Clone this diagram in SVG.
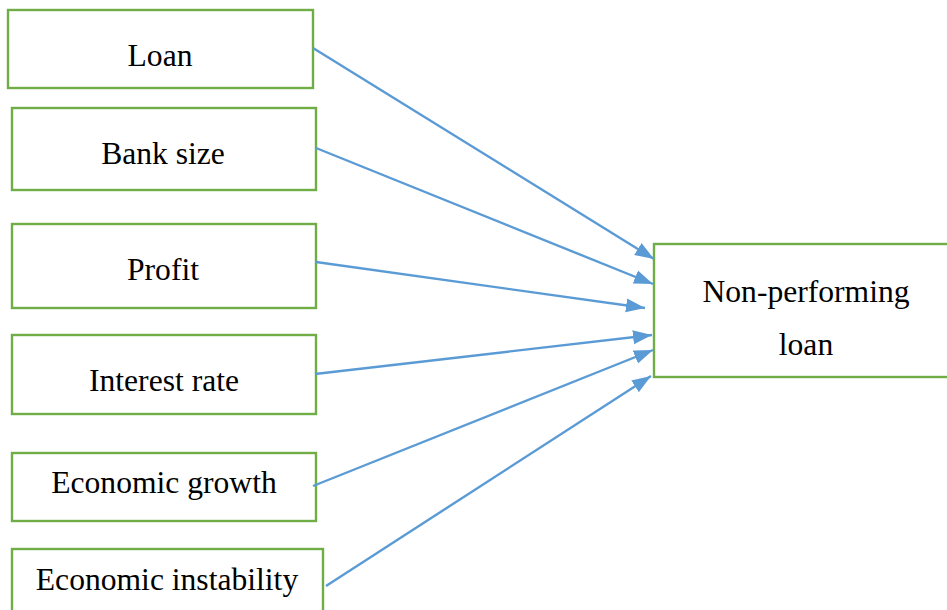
<svg xmlns="http://www.w3.org/2000/svg" width="947" height="610" viewBox="0 0 947 610">
<style>
.box{fill:#fff;stroke:#70AD47;stroke-width:2.4}
.lbl{font-family:'Liberation Serif',serif;font-size:31.6px;fill:#000;text-anchor:middle}
.arr{stroke:#5B9BD5;stroke-width:2.4;fill:none;marker-end:url(#ah)}
</style>
<defs>
<marker id="ah" markerUnits="userSpaceOnUse" markerWidth="20" markerHeight="16" viewBox="0 0 20 16" refX="19" refY="8" orient="auto">
<path d="M0,1 L19,8 L0,15 Z" fill="#5B9BD5"/>
</marker>
</defs>
<rect width="947" height="610" fill="#fff"/>
<g id="loan"><rect class="box" x="8" y="10" width="305" height="78"/><text class="lbl" x="160" y="66">Loan</text></g>
<g id="banksize"><rect class="box" x="12" y="108" width="304" height="82"/><text class="lbl" x="163" y="164">Bank size</text></g>
<g id="profit"><rect class="box" x="12" y="224" width="304" height="84"/><text class="lbl" x="163" y="280">Profit</text></g>
<g id="interest"><rect class="box" x="12" y="335" width="304" height="79"/><text class="lbl" x="164" y="391">Interest rate</text></g>
<g id="growth"><rect class="box" x="12" y="453" width="304" height="68"/><text class="lbl" x="164" y="493">Economic growth</text></g>
<g id="instability"><rect class="box" x="12" y="549" width="311" height="70"/><text class="lbl" x="167" y="590">Economic instability</text></g>
<g id="npl"><rect class="box" x="654" y="244" width="300" height="133"/><text class="lbl" x="806" y="302">Non-performing</text><text class="lbl" x="806" y="355">loan</text></g>
<g id="connectors">
<line class="arr" x1="313" y1="48" x2="654" y2="259"/>
<line class="arr" x1="316" y1="148" x2="653" y2="284"/>
<line class="arr" x1="316" y1="262" x2="645" y2="308"/>
<line class="arr" x1="315" y1="374" x2="652" y2="335"/>
<line class="arr" x1="313" y1="486" x2="653" y2="350"/>
<line class="arr" x1="326" y1="586" x2="651" y2="376"/>
</g>
</svg>
